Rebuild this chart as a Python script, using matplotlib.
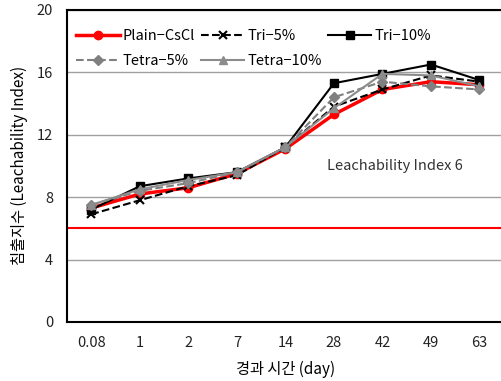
import numpy as np
import matplotlib.pyplot as plt

plt.rcParams['font.family'] = ['Noto Sans CJK KR', 'DejaVu Sans']

# elapsed time categories (day)
days = ['0.08', '1', '2', '7', '14', '28', '42', '49', '63']

plain_cscl = [7.3, 8.2, 8.6, 9.5, 11.1, 13.3, 14.9, 15.4, 15.2]
tri_5 = [6.9, 7.8, 8.7, 9.4, 11.2, 13.8, 14.9, 15.8, 15.4]
tri_10 = [7.2, 8.7, 9.2, 9.6, 11.2, 15.3, 15.9, 16.5, 15.5]
tetra_5 = [7.5, 8.4, 8.9, 9.6, 11.2, 14.4, 15.4, 15.1, 14.9]
tetra_10 = [7.5, 8.5, 9.1, 9.6, 11.2, 13.7, 15.9, 15.8, 15.1]

index_limit = 6

fig = plt.figure(figsize=(5.02, 3.81), dpi=100)
ax = fig.add_axes([0.1335, 0.155, 0.87, 0.819])
x = np.arange(len(days))

h_plain, = ax.plot(x, plain_cscl, color='red', lw=2.5, marker='o', ms=6, label='Plain−CsCl', zorder=3)
h_tri5, = ax.plot(x, tri_5, color='black', lw=1.5, ls='--', marker='x', ms=6, mew=1.5, label='Tri−5%', zorder=4)
h_tri10, = ax.plot(x, tri_10, color='black', lw=1.5, marker='s', ms=6, label='Tri−10%', zorder=4)
h_tet5, = ax.plot(x, tetra_5, color='#808080', lw=1.5, ls='--', marker='D', ms=5, label='Tetra−5%', zorder=4)
h_tet10, = ax.plot(x, tetra_10, color='#8c8c8c', lw=1.5, marker='^', ms=6, label='Tetra−10%', zorder=4)

ax.axhline(index_limit, color='red', lw=1.5, zorder=2)
ax.text(4.85, 10, 'Leachability Index 6', fontsize=10.5, color='#333333', va='center')

ax.set_xlim(-0.5, len(days) - 0.5)
ax.set_ylim(0, 20)
ax.set_yticks(np.arange(0, 21, 4))
ax.set_xticks(x)
ax.set_xticklabels(days)
ax.yaxis.grid(True, color='#a0a0a0', lw=1)
ax.set_axisbelow(True)
ax.tick_params(length=0, labelsize=10.5, colors='#222222')
ax.tick_params(axis='x', pad=10)
ax.tick_params(axis='y', pad=10)
for s in ['left', 'bottom', 'top']:
    ax.spines[s].set_linewidth(1.5)
ax.spines['right'].set_visible(False)

ax.set_xlabel('경과 시간 (day)', fontsize=11, labelpad=8)
ax.set_ylabel('침출지수 (Leachability Index)', fontsize=11, labelpad=6)

# row-major order: Plain, Tri-5, Tri-10 / Tetra-5, Tetra-10
handles = [h_plain, h_tet5, h_tri5, h_tet10, h_tri10]
ax.legend(handles=handles, loc='upper left', ncol=3, frameon=False, fontsize=10.5,
          bbox_to_anchor=(-0.01, 0.98), handlelength=3, columnspacing=0.4,
          handletextpad=0.2, labelspacing=0.75)

fig.savefig('out.png', dpi=100)
